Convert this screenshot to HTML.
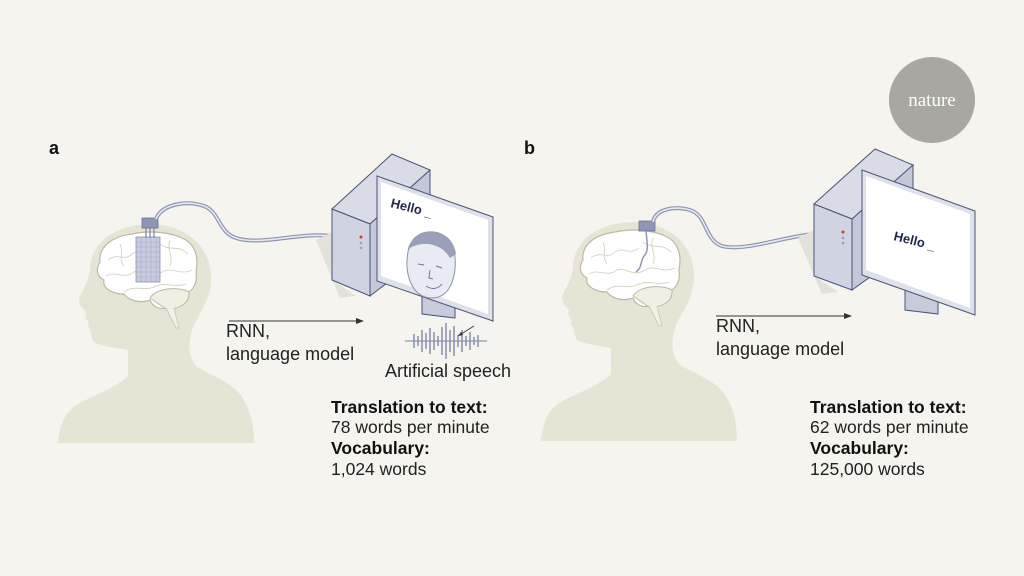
<!DOCTYPE html>
<html><head><meta charset="utf-8"><style>
html,body{margin:0;padding:0;background:#f5f4ee;}
svg{display:block}
text{font-family:"Liberation Sans",sans-serif;}
</style></head><body>
<svg width="1024" height="576" viewBox="0 0 1024 576" xmlns="http://www.w3.org/2000/svg">
<rect width="1024" height="576" fill="#f5f4ee"/>
<defs>
<g id="head">
  <path d="M58,443 C60,420 68,410 78,404 C92,396 116,388 128,376 L128,350 C118,348 100,346 94,342 C90,336 92,330 88,326 C90,322 86,320 86,318 C84,314 88,312 84,310 C80,306 78,302 80,296 C84,288 88,282 90,270 C90,246 110,226 148,224 C186,224 210,246 211,276 C212,300 198,314 192,330 C188,344 188,356 196,366 C214,378 236,382 246,404 C252,416 254,430 254,443 Z" fill="#e6e4d4"/>
  <path d="M100,262 C98,246 114,236 132,234 C150,230 172,232 186,240 C198,248 198,262 196,272 C198,284 192,292 184,294 C188,302 180,308 168,308 C158,310 152,306 150,300 C140,304 128,300 124,294 C112,294 102,288 104,280 C96,276 96,268 100,262 Z" fill="#fff" stroke="#bcb9a6" stroke-width="1.2"/>
  <path d="M150,298 C156,288 178,286 189,292 C190,304 178,310 166,309 Z" fill="#f1efe4" stroke="#bcb9a6" stroke-width="1"/>
  <path d="M166,308 L176,328 L179,328 L174,308" fill="#f3f1e6" stroke="#cfccba" stroke-width="1"/>
  <g stroke="#d1cebd" stroke-width="0.8" fill="none">
   <path d="M108,260 C118,252 124,262 132,254 C140,248 146,258 156,250"/>
   <path d="M160,244 C170,252 178,244 188,254"/>
   <path d="M106,276 C116,270 124,280 134,272 C142,268 150,280 162,272 C172,266 180,276 192,270"/>
   <path d="M124,292 C134,284 146,292 156,286 C166,282 176,288 186,284"/>
   <path d="M120,244 C124,252 118,258 124,266"/>
   <path d="M170,240 C166,250 174,256 170,266"/>
  </g>
</g>
</defs>

<text x="49" y="154" font-size="18" font-weight="bold" fill="#111">a</text>
<use href="#head"/>
<rect x="136" y="237" width="24" height="45" fill="#c9cce0" stroke="#8a90b0" stroke-width="0.8"/>
<g stroke="#9aa0c0" stroke-width="0.4">
 <path d="M136,242H160M136,247H160M136,252H160M136,257H160M136,262H160M136,267H160M136,272H160M136,277H160"/>
 <path d="M141,237V282M146,237V282M151,237V282M156,237V282"/>
</g>
<g stroke="#7c84a6" stroke-width="1.2"><path d="M146,228V238M150,228V238M154,228V238"/></g>
<rect x="142" y="218" width="16" height="10" fill="#8f96b4" stroke="#6b7296" stroke-width="0.8"/>
<path d="M156,219 C162,204 186,200 204,206 C220,212 218,232 236,238 C260,246 300,232 330,236" fill="none" stroke="#8f96b4" stroke-width="4"/>
<path d="M156,219 C162,204 186,200 204,206 C220,212 218,232 236,238 C260,246 300,232 330,236" fill="none" stroke="#e8eaf2" stroke-width="1.6"/>
<polygon points="316,240 332,232 332,280 356,296 340,298" fill="#e2e1da"/>
<polygon points="332,209 392,154 430,170 370,224" fill="#d9dbe6" stroke="#4c5478" stroke-width="1"/>
<polygon points="370,224 430,170 430,250 370,296" fill="#c3c7d8" stroke="#4c5478" stroke-width="1"/>
<polygon points="332,209 370,224 370,296 332,280" fill="#d0d3e2" stroke="#4c5478" stroke-width="1"/>
<circle cx="361" cy="237" r="1.5" fill="#d33"/><circle cx="361" cy="243" r="1.3" fill="#9aa0b8"/><circle cx="361" cy="248" r="1.3" fill="#9aa0b8"/>
<polygon points="422,296 455,300 455,318 422,314" fill="#c8cbdb" stroke="#4c5478" stroke-width="1"/>
<polygon points="377,176 493,217 493,321 377,281" fill="#dfe1ea" stroke="#4c5478" stroke-width="1"/>
<polygon points="381,182 488,220 488,314 381,276" fill="#fff"/>
<text x="390" y="207" font-size="13" font-weight="bold" fill="#222a48" transform="rotate(14 390 207)">Hello _</text>
<path d="M408,252 C410,228 450,226 454,250 C458,272 452,298 432,298 C412,298 404,274 408,252 Z" fill="#e9ebf2" stroke="#8a90ac" stroke-width="1"/>
<path d="M408,252 C410,224 452,224 456,254 L450,258 C442,244 424,240 410,248 Z" fill="#9aa0ba"/>
<g stroke="#6f7694" stroke-width="1" fill="none"><path d="M418,264 l6,1"/><path d="M436,266 l6,2"/><path d="M426,286 C432,290 438,289 442,284"/><path d="M430,270 l-1,8 l4,1"/></g>
<path d="M405,341 L487,341" stroke="#b4b9cf" stroke-width="2"/>
<g stroke="#8e95b2" stroke-width="1.6">
<path d="M414,334V348M418,336V346M422,330V352M426,333V349M430,328V354M434,332V350M438,336V346M442,327V355M446,323V359M450,330V352M454,326V356M458,335V347M462,330V352M466,336V346M470,332V350M474,337V345M478,335V347"/>
</g>
<path d="M474,326 L458,336" stroke="#333" stroke-width="0.8"/><path d="M458,336 l5,-1 l-2,-3 z" fill="#333"/>
<path d="M229,321 H357" stroke="#333" stroke-width="1"/><path d="M364,321 l-8,-3 v6 z" fill="#333"/>
<text x="226" y="337" font-size="18" fill="#222">RNN,</text>
<text x="226" y="360" font-size="18" fill="#222">language model</text>
<text x="385" y="377" font-size="18" fill="#222">Artificial speech</text>
<text x="331" y="413" font-size="17.5" font-weight="bold" fill="#111">Translation to text:</text>
<text x="331" y="433" font-size="17.5" fill="#222">78 words per minute</text>
<text x="331" y="454" font-size="17.5" font-weight="bold" fill="#111">Vocabulary:</text>
<text x="331" y="475" font-size="17.5" fill="#222">1,024 words</text>

<text x="524" y="154" font-size="18" font-weight="bold" fill="#111">b</text>
<use href="#head" transform="translate(483,-2)"/>
<path d="M646,228 C646,240 650,250 644,256 C640,262 642,268 636,272" fill="none" stroke="#8f96b4" stroke-width="1.5"/>
<rect x="639" y="221" width="16" height="10" fill="#8f96b4" stroke="#6b7296" stroke-width="0.8"/>
<path d="M653,222 C656,208 676,206 690,210 C708,216 704,240 722,246 C744,252 786,236 814,234" fill="none" stroke="#8f96b4" stroke-width="4"/>
<path d="M653,222 C656,208 676,206 690,210 C708,216 704,240 722,246 C744,252 786,236 814,234" fill="none" stroke="#e8eaf2" stroke-width="1.6"/>
<polygon points="798,238 814,230 814,276 838,292 822,294" fill="#e2e1da"/>
<polygon points="814,204 875,149 913,165 852,219" fill="#d9dbe6" stroke="#4c5478" stroke-width="1"/>
<polygon points="852,219 913,165 913,246 852,290" fill="#c3c7d8" stroke="#4c5478" stroke-width="1"/>
<polygon points="814,204 852,219 852,290 814,276" fill="#d0d3e2" stroke="#4c5478" stroke-width="1"/>
<circle cx="843" cy="232" r="1.5" fill="#d33"/><circle cx="843" cy="238" r="1.3" fill="#9aa0b8"/><circle cx="843" cy="243" r="1.3" fill="#9aa0b8"/>
<polygon points="905,290 938,294 938,314 905,310" fill="#c8cbdb" stroke="#4c5478" stroke-width="1"/>
<polygon points="862,170 975,211 975,315 862,275" fill="#dfe1ea" stroke="#4c5478" stroke-width="1"/>
<polygon points="866,176 970,214 970,308 866,270" fill="#fff"/>
<text x="893" y="240" font-size="13" font-weight="bold" fill="#222a48" transform="rotate(14 893 240)">Hello _</text>
<path d="M716,316 H845" stroke="#333" stroke-width="1"/><path d="M852,316 l-8,-3 v6 z" fill="#333"/>
<text x="716" y="332" font-size="18" fill="#222">RNN,</text>
<text x="716" y="355" font-size="18" fill="#222">language model</text>
<text x="810" y="413" font-size="17.5" font-weight="bold" fill="#111">Translation to text:</text>
<text x="810" y="433" font-size="17.5" fill="#222">62 words per minute</text>
<text x="810" y="454" font-size="17.5" font-weight="bold" fill="#111">Vocabulary:</text>
<text x="810" y="475" font-size="17.5" fill="#222">125,000 words</text>

<circle cx="932" cy="100" r="43" fill="#a8a7a1"/>
<text x="932" y="106" font-size="19" text-anchor="middle" fill="#fff" style="font-family:'Liberation Serif',serif">nature</text>
</svg>
</body></html>
